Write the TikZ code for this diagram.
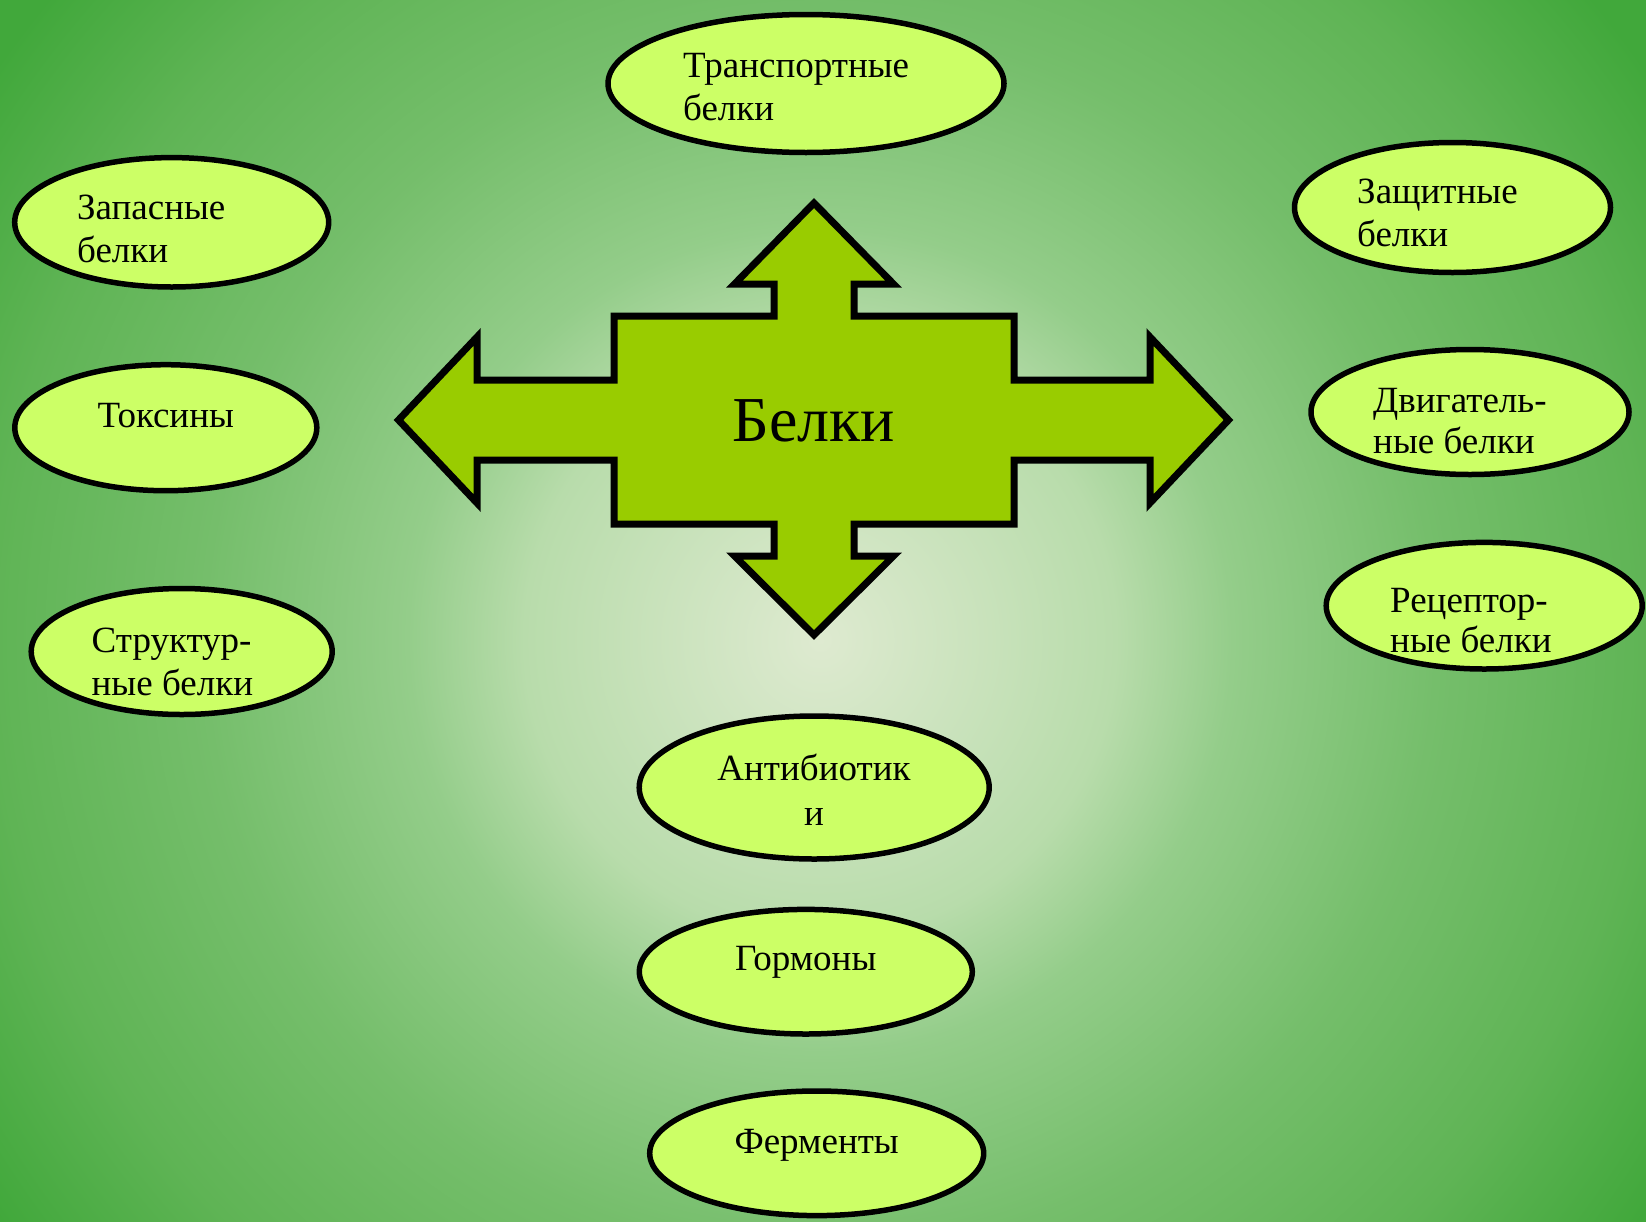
\documentclass[tikz,border=0pt]{standalone}
\usepackage{fontspec}
\setmainfont{Liberation Serif}
\usetikzlibrary{shapes.geometric}
\definecolor{bgA}{RGB}{222,234,208}
\definecolor{bgA2}{RGB}{184,220,171}
\definecolor{bgB}{RGB}{148,205,138}
\definecolor{bgC}{RGB}{117,190,107}
\definecolor{bgD}{RGB}{95,180,85}
\definecolor{bgF}{RGB}{65,168,59}
\definecolor{ellfill}{HTML}{CCFF66}
\definecolor{arrfill}{HTML}{99CC00}
\pgfdeclareradialshading{bgshade}{\pgfpoint{0bp}{0bp}}{color(0bp)=(bgA); color(7.4bp)=(bgA2); color(10.3bp)=(bgB); color(15.4bp)=(bgC); color(20.7bp)=(bgD); color(25.1bp)=(bgF); color(50bp)=(bgF)}
\tikzset{
  ell/.style={ellipse, draw=black, line width=5.5pt, fill=ellfill, inner sep=0pt},
  txt/.style={font=\rmfamily\fontsize{37}{43}\selectfont, inner sep=0pt, text=black},
  arrowshape/.style={draw=black, line width=7pt, fill=arrfill, line join=miter}
}
\begin{document}
\begin{tikzpicture}[x=1pt,y=-1pt]
\useasboundingbox (0,0) rectangle (1646,1221);
\begin{scope}
  \clip (0,0) rectangle (1646,1221);
  \shade[shading=bgshade] (-180,-360) rectangle (1820,1640);
\end{scope}

% central four-way arrow
\draw[arrowshape]
  (814,203) -- (893.5,284) -- (854,284) -- (854,316) -- (1014,316) -- (1014,380)
  -- (1150,380) -- (1150,337) -- (1228.5,420) -- (1150,503) -- (1150,460)
  -- (1014,460) -- (1014,524) -- (854,524) -- (854,556) -- (893.5,556)
  -- (814,635) -- (734.5,556) -- (774,556) -- (774,524) -- (614,524)
  -- (614,460) -- (477,460) -- (477,503) -- (398.5,420) -- (477,337)
  -- (477,380) -- (614,380) -- (614,316) -- (774,316) -- (774,284)
  -- (734.5,284) -- cycle;
\node[inner sep=0pt, font=\rmfamily\fontsize{64}{72}\selectfont, anchor=base] (center) at (814,441.7) {Белки};

% ellipses
\node[ell, minimum width=396pt, minimum height=138pt] (e1) at (806,83.5) {};
\node[ell, minimum width=314pt, minimum height=129.4pt] (e2) at (171.7,222.3) {};
\node[ell, minimum width=302pt, minimum height=126pt] (e3) at (165.8,427.7) {};
\node[ell, minimum width=301pt, minimum height=126pt] (e4) at (181.7,651.5) {};
\node[ell, minimum width=316pt, minimum height=130pt] (e5) at (1452.5,207.5) {};
\node[ell, minimum width=318pt, minimum height=125pt] (e6) at (1470,412) {};
\node[ell, minimum width=316pt, minimum height=126.6pt] (e7) at (1484.2,605.7) {};
\node[ell, minimum width=350pt, minimum height=143pt] (e8) at (814.2,787.5) {};
\node[ell, minimum width=333pt, minimum height=124.6pt] (e9) at (805.8,971.7) {};
\node[ell, minimum width=334pt, minimum height=124.6pt] (e10) at (816.7,1153.3) {};

% texts
\node[txt, anchor=base west] (t1) at (683,77) {\begin{tabular}[t]{@{}l@{}}Транспортные\\белки\end{tabular}};
\node[txt, anchor=base west] (t2) at (77,219.5) {\begin{tabular}[t]{@{}l@{}}Запасные\\белки\end{tabular}};
\node[txt, anchor=base] (t3) at (165.8,427.5) {Токсины};
\node[txt, anchor=base west] (t4) at (91.5,652.4) {\begin{tabular}[t]{@{}l@{}}Структур-\\ные белки\end{tabular}};
\node[txt, anchor=base west] (t5) at (1357,203.9) {\begin{tabular}[t]{@{}l@{}}Защитные\\белки\end{tabular}};
\node[txt, anchor=base west, font=\rmfamily\fontsize{37}{41}\selectfont] (t6) at (1373,412.9) {\begin{tabular}[t]{@{}l@{}}Двигатель-\\ные белки\end{tabular}};
\node[txt, anchor=base west, font=\rmfamily\fontsize{37}{40}\selectfont] (t7) at (1390,612.9) {\begin{tabular}[t]{@{}l@{}}Рецептор-\\ные белки\end{tabular}};
\node[txt, anchor=base, font=\rmfamily\fontsize{37}{45}\selectfont] (t8) at (814,780) {\begin{tabular}[t]{@{}c@{}}Антибиотик\\и\end{tabular}};
\node[txt, anchor=base] (t9) at (805.8,970) {Гормоны};
\node[txt, anchor=base] (t10) at (816.7,1153.3) {Ферменты};
\end{tikzpicture}
\end{document}
